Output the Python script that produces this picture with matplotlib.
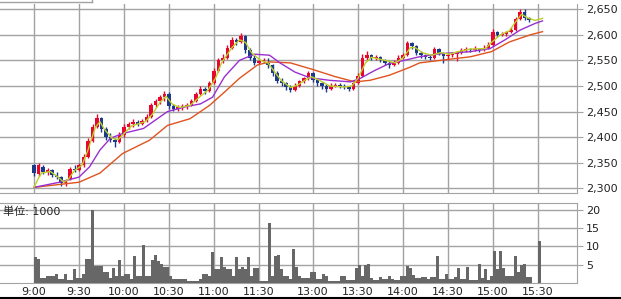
import numpy as np
import matplotlib.pyplot as plt
from matplotlib.lines import Line2D

plt.rcParams["font.family"] = ["DejaVu Sans", "Noto Sans CJK JP"]

# time axis: minute index, lunch break squeezed
tick_pos = [0, 30, 60, 90, 120, 150, 186, 216, 246, 276, 306, 336]
tick_labels = ["9:00", "9:30", "10:00", "10:30", "11:00", "11:30",
               "13:00", "13:30", "14:00", "14:30", "15:00", "15:30"]
price_ticks = [2300, 2350, 2400, 2450, 2500, 2550, 2600, 2650]
vol_ticks = [5, 10, 15, 20]

# 3-minute candles
candle_step = 3
candle_open = [2345, 2328, 2342, 2332, 2335, 2326, 2322, 2310, 2318, 2338,
               2336, 2345, 2362, 2392, 2420, 2438, 2415, 2400, 2395, 2390,
               2405, 2420, 2425, 2430, 2426, 2432, 2440, 2462, 2470, 2478,
               2485, 2460, 2455, 2458, 2460, 2462, 2470, 2485, 2495, 2490,
               2505, 2530, 2550, 2555, 2575, 2590, 2585, 2598, 2570, 2555,
               2545, 2548, 2545, 2540, 2525, 2510, 2505, 2498, 2492, 2500,
               2510, 2515, 2525, 2512, 2505, 2500, 2495, 2500, 2502, 2500,
               2498, 2495, 2505, 2520, 2555, 2560, 2555, 2556, 2550, 2545,
               2540, 2545, 2555, 2560, 2583, 2578, 2565, 2560, 2557, 2555,
               2572, 2565, 2558, 2560, 2562, 2565, 2570, 2572, 2570, 2573,
               2570, 2575, 2580, 2605, 2600, 2602, 2605, 2610, 2630, 2645,
               2632]
candle_high = [2348, 2350, 2345, 2340, 2338, 2332, 2325, 2318, 2342, 2345,
               2350, 2368, 2398, 2425, 2445, 2440, 2420, 2408, 2398, 2410,
               2425, 2430, 2435, 2433, 2436, 2445, 2466, 2475, 2482, 2490,
               2488, 2465, 2462, 2464, 2466, 2474, 2488, 2500, 2498, 2510,
               2535, 2555, 2562, 2580, 2595, 2594, 2603, 2600, 2575, 2560,
               2552, 2555, 2555, 2542, 2530, 2515, 2508, 2502, 2505, 2512,
               2518, 2530, 2528, 2515, 2508, 2503, 2505, 2506, 2505, 2503,
               2500, 2508, 2525, 2562, 2568, 2563, 2560, 2558, 2552, 2548,
               2550, 2560, 2565, 2588, 2586, 2580, 2568, 2563, 2560, 2577,
               2575, 2567, 2565, 2566, 2568, 2574, 2576, 2575, 2578, 2575,
               2580, 2585, 2612, 2608, 2606, 2608, 2615, 2635, 2650, 2650,
               2635]
candle_low = [2325, 2325, 2328, 2326, 2322, 2318, 2305, 2305, 2316, 2332,
              2334, 2342, 2360, 2390, 2418, 2410, 2395, 2390, 2380, 2388,
              2400, 2415, 2420, 2422, 2424, 2430, 2438, 2458, 2465, 2470,
              2455, 2452, 2452, 2454, 2455, 2460, 2468, 2482, 2485, 2488,
              2503, 2528, 2545, 2552, 2572, 2580, 2583, 2565, 2550, 2540,
              2542, 2545, 2535, 2520, 2505, 2500, 2492, 2488, 2490, 2498,
              2505, 2512, 2508, 2500, 2495, 2488, 2492, 2497, 2496, 2494,
              2490, 2493, 2503, 2518, 2550, 2550, 2550, 2546, 2540, 2536,
              2538, 2543, 2552, 2558, 2572, 2560, 2555, 2553, 2550, 2553,
              2560, 2545, 2550, 2556, 2548, 2562, 2567, 2566, 2568, 2566,
              2568, 2572, 2578, 2596, 2597, 2598, 2603, 2608, 2628, 2628,
              2625]
candle_close = [2330, 2345, 2332, 2335, 2326, 2322, 2310, 2315, 2338, 2336,
                2345, 2362, 2392, 2420, 2438, 2415, 2400, 2395, 2390, 2405,
                2420, 2425, 2430, 2426, 2432, 2440, 2462, 2470, 2478, 2485,
                2460, 2455, 2458, 2460, 2462, 2470, 2485, 2495, 2490, 2505,
                2530, 2550, 2555, 2575, 2590, 2585, 2598, 2570, 2555, 2545,
                2548, 2550, 2540, 2525, 2510, 2505, 2498, 2492, 2500, 2510,
                2515, 2525, 2512, 2505, 2500, 2495, 2500, 2502, 2500, 2498,
                2495, 2505, 2520, 2555, 2560, 2555, 2556, 2550, 2545, 2540,
                2545, 2555, 2560, 2583, 2578, 2565, 2560, 2557, 2555, 2572,
                2565, 2558, 2560, 2562, 2565, 2570, 2572, 2570, 2573, 2570,
                2575, 2580, 2605, 2600, 2602, 2605, 2610, 2630, 2645, 2632,
                2628]

# moving averages (minute index, price)
ma_short_t = [0, 3, 5, 11, 16, 20, 23, 27, 32, 36, 41, 44, 47, 52, 56, 61, 65, 74,
              79, 84, 88, 92, 97, 104, 111, 116, 121, 125, 132, 137, 141, 145, 151,
              156, 161, 165, 171, 176, 181, 185, 191, 197, 207, 212, 216, 221, 225,
              234, 241, 246, 251, 254, 259, 265, 271, 277, 284, 291, 301, 305, 311,
              317, 321, 325, 329, 334, 339]
ma_short = [2302, 2320, 2330, 2333, 2322, 2312, 2318, 2335, 2345, 2375, 2420, 2430,
            2415, 2398, 2395, 2410, 2422, 2430, 2445, 2468, 2480, 2465, 2458, 2462,
            2480, 2492, 2515, 2545, 2575, 2590, 2585, 2565, 2550, 2545, 2525, 2510,
            2497, 2502, 2512, 2518, 2510, 2500, 2498, 2500, 2515, 2545, 2556, 2550,
            2545, 2555, 2575, 2575, 2565, 2560, 2565, 2562, 2568, 2572, 2573, 2585,
            2600, 2608, 2625, 2640, 2633, 2628, 2632]
ma_mid_t = [0, 17, 30, 37, 44, 51, 59, 73, 89, 102, 111, 119, 127, 137, 147, 157,
            164, 174, 184, 197, 211, 217, 227, 237, 247, 257, 271, 291, 304, 314,
            324, 334, 339]
ma_mid = [2302, 2312, 2322, 2342, 2375, 2398, 2407, 2417, 2450, 2460, 2465, 2478,
          2518, 2550, 2562, 2560, 2545, 2527, 2516, 2511, 2508, 2514, 2530, 2544,
          2550, 2557, 2563, 2567, 2573, 2590, 2609, 2622, 2627]
ma_long_t = [0, 30, 44, 59, 77, 89, 104, 111, 117, 127, 137, 149, 157, 171, 186,
             201, 214, 224, 237, 251, 257, 271, 291, 305, 317, 331, 339]
ma_long = [2302, 2312, 2330, 2368, 2394, 2423, 2436, 2450, 2462, 2488, 2515, 2541,
           2547, 2545, 2532, 2518, 2508, 2511, 2521, 2537, 2545, 2550, 2557, 2567,
           2586, 2600, 2606]

# volume, 2-minute bins, unit 1000
vol_step = 2
volume = [7, 6.5, 1.5, 1.5, 2, 2, 2, 2.5, 1.2, 1.2,
          2.5, 0.8, 0.8, 3.9, 1.5, 1.5, 2.5, 6.5, 6.5, 20,
          4.6, 4.6, 4.6, 3, 3, 1.5, 4, 2, 6.3, 2,
          2.5, 2.5, 1.2, 7.3, 2, 2, 10.4, 2, 2, 6.3,
          7.6, 6, 5.2, 4.5, 4.5, 2, 1.2, 1, 1, 1,
          1, 0.5, 0.5, 0.5, 0.5, 1.2, 2.5, 2.5, 2, 8.5,
          3.7, 3.7, 7, 4.5, 3.7, 3.7, 2, 7, 3.7, 4.5,
          3.7, 7.2, 2, 4, 4, 0.5, 0.5, 0.5, 16.4, 2,
          7.4, 7.6, 3.7, 1.8, 1.8, 1.2, 9.3, 4.5, 2, 1.5,
          1.5, 1.5, 3, 3, 1.2, 1.2, 2.5, 2, 0.6, 0.6,
          0.6, 0.6, 1.8, 1.8, 0.8, 0.8, 0.8, 4.2, 4.8, 2,
          4.8, 5.2, 1.5, 0.8, 0.8, 1.6, 1, 1, 2, 1.2,
          0.8, 0.8, 2, 2, 4.6, 4, 2.2, 1.4, 1.4, 1.6,
          1.6, 1.2, 1.6, 1.6, 7.3, 1, 1, 2.5, 1.2, 1.2,
          1.6, 4.2, 1.2, 1.2, 4.5, 0.8, 0.8, 0.8, 5.2, 1.4,
          3.7, 0.8, 2, 8.7, 3.7, 8.8, 4, 1.9, 1.9, 1.9,
          7.3, 3, 5, 5.2, 1.6, 1.6, 0, 0, 11.5]

RED = "#e8062f"
BLUE = "#1b3a8a"
GRID = "#a3a3a3"

W, H = 621, 299
fig = plt.figure(figsize=(W / 100, H / 100), dpi=100)
ax = fig.add_axes([0, 1 - 193 / H, 577 / W, 189 / H])
axv = fig.add_axes([0, 1 - 283 / H, 577 / W, 80 / H])

xlim = (-34 / 1.5, (577 - 34) / 1.5)

# --- price panel ---
o = np.array(candle_open)
c = np.array(candle_close)
t = np.arange(len(c)) * candle_step
colors = np.where(c >= o, RED, BLUE)
ax.vlines(t, candle_low, candle_high, colors=colors, lw=1, zorder=3)
ax.bar(t, np.maximum(np.abs(c - o), 1.5), bottom=np.minimum(o, c), width=2.5,
       color=colors, lw=0, zorder=3)
ax.plot(ma_long_t, ma_long, color="#e0531e", lw=1, zorder=4)
ax.plot(ma_mid_t, ma_mid, color="#9a2fd0", lw=1, zorder=4)
ax.plot(ma_short_t, ma_short, color="#bcd02a", lw=1, zorder=4)

ax.set_xlim(*xlim)
ax.set_ylim(2291, 2660)
ax.set_xticks(tick_pos)
ax.set_yticks(price_ticks)
ax.set_yticklabels([f"{v:,}" for v in price_ticks])
ax.yaxis.tick_right()
ax.tick_params(axis="y", length=4, color=GRID, labelsize=8, pad=2.5, labelcolor="#222222")
ax.tick_params(axis="x", length=0, labelbottom=False)
ax.grid(color=GRID, lw=1, zorder=0)
ax.set_axisbelow(True)
for side in ("left", "top"):
    ax.spines[side].set_visible(False)
for side in ("right", "bottom"):
    ax.spines[side].set_color(GRID)

# --- volume panel ---
vt = np.arange(len(volume)) * vol_step
axv.bar(vt, volume, width=vol_step, align="edge", color="#676767", lw=0, zorder=3)
axv.set_xlim(*xlim)
axv.set_ylim(0, 21.9)
axv.set_xticks(tick_pos)
axv.set_xticklabels(tick_labels)
axv.set_yticks(vol_ticks)
axv.yaxis.tick_right()
axv.tick_params(axis="y", length=4, color=GRID, labelsize=8, pad=2.5, labelcolor="#222222")
axv.tick_params(axis="x", length=0, labelsize=8, pad=3, labelcolor="#222222")
axv.grid(color=GRID, lw=1, zorder=0)
axv.set_axisbelow(True)
axv.spines["left"].set_visible(False)
for side in ("right", "bottom", "top"):
    axv.spines[side].set_color(GRID)
axv.text(3 / 577, (283 - 212) / 80, "単位: 1000", transform=axv.transAxes,
         ha="left", va="center", fontsize=8, color="#222222", zorder=5)

# frame bits outside the panels
fig.add_artist(Line2D([0, 92 / W], [1 - 2 / H] * 2, color=GRID, lw=1))
fig.add_artist(Line2D([92 / W] * 2, [1, 1 - 2 / H], color=GRID, lw=1))
fig.add_artist(Line2D([0, 1], [1 - 297.7 / H] * 2, color="black", lw=1.5))

fig.savefig("out.png", dpi=100)
